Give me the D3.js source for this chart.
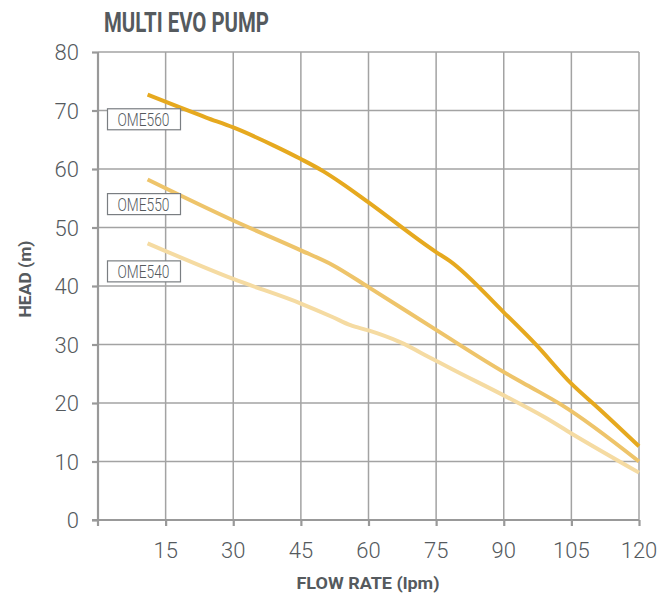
<!DOCTYPE html>
<html>
<head>
<meta charset="utf-8">
<script src="https://cdn.jsdelivr.net/npm/d3@7"></script>
<style>
  html, body { margin: 0; padding: 0; background: #fff; }
  svg { display: block; }
</style>
</head>
<body>
<svg id="chart" width="665" height="601"></svg>
<script>
const title = "MULTI EVO PUMP";
const xTitle = "FLOW RATE (lpm)";
const yTitle = "HEAD (m)";
const xTicks = [15, 30, 45, 60, 75, 90, 105, 120];
const yTicks = [0, 10, 20, 30, 40, 50, 60, 70, 80];
const seriesNames = ["OME560", "OME550", "OME540"];
const seriesColors = ["#E6A91F", "#EEC46A", "#F5DBA2"];
const labelHeads = [68.5, 54, 42.5];

const flow560 = [11, 24, 30, 39, 45, 50, 54, 60, 75, 78, 90, 97, 105, 111, 120];
const head560 = [72.7, 68.8, 67.1, 64.0, 61.7, 59.6, 57.6, 54.3, 45.8, 44.3, 35.5, 30.1, 23.3, 19.1, 12.6];
const flow550 = [11, 30, 45, 52, 60, 75, 90, 96, 103, 120];
const head550 = [58.2, 51.2, 46.1, 43.6, 39.8, 32.5, 25.3, 22.7, 19.6, 10.0];
const flow540 = [11, 30, 45, 52, 56, 60, 67, 74, 79, 90, 99, 105, 120];
const head540 = [47.3, 41.2, 37.0, 34.7, 33.3, 32.4, 30.4, 27.6, 25.6, 21.3, 17.6, 14.8, 8.1];

const flows = [flow560, flow550, flow540];
const heads = [head560, head550, head540];

const svg = d3.select("#chart");
const x = d3.scaleLinear().domain([0, 120]).range([98, 639]);
const y = d3.scaleLinear().domain([0, 80]).range([520, 52]);

const gridColor = "#a3a3a3";
const textColor = "#555a5e";

// grid
const grid = svg.append("g");
grid.selectAll("line.v").data(xTicks).enter().append("line")
  .attr("x1", d => x(d)).attr("x2", d => x(d))
  .attr("y1", y(80)).attr("y2", y(0))
  .attr("stroke", gridColor).attr("stroke-width", 1.5);
grid.selectAll("line.h").data(yTicks.filter(d => d > 0)).enter().append("line")
  .attr("x1", x(0)).attr("x2", x(120))
  .attr("y1", d => y(d)).attr("y2", d => y(d))
  .attr("stroke", gridColor).attr("stroke-width", 1.5);

// axes
const xAxis = d3.axisBottom(x).tickValues(xTicks).tickSize(6).tickFormat("");
const gx = svg.append("g").attr("transform", `translate(0,${y(0)})`).call(xAxis);
gx.select(".domain").attr("d", `M${x(0) - 6},0H${x(120)}`);
gx.selectAll("path,line").attr("stroke", "#999").attr("stroke-width", 2.2);

const yAxis = d3.axisLeft(y).tickValues(yTicks).tickSize(6).tickFormat("");
const gy = svg.append("g").attr("transform", `translate(${x(0)},0)`).call(yAxis);
gy.select(".domain").attr("d", `M0,${y(80)}V${y(0) + 6}`);
gy.selectAll("path,line").attr("stroke", "#999").attr("stroke-width", 2.2);

// tick labels
svg.append("g").selectAll("text").data(yTicks).enter().append("text")
  .attr("x", 79).attr("y", d => y(d) + 8)
  .attr("text-anchor", "end")
  .attr("font-family", "Roboto").attr("font-weight", 300).attr("font-size", 22)
  .attr("fill", textColor)
  .text(d => d);
svg.append("g").selectAll("text").data(xTicks).enter().append("text")
  .attr("x", d => x(d)).attr("y", 558)
  .attr("text-anchor", "middle")
  .attr("font-family", "Roboto").attr("font-weight", 300).attr("font-size", 22)
  .attr("fill", textColor)
  .text(d => d);

// lines
const line = d3.line().x(d => x(d[0])).y(d => y(d[1])).curve(d3.curveMonotoneX);
seriesNames.forEach((name, i) => {
  const pts = flows[i].map((f, j) => [f, heads[i][j]]);
  svg.append("path").datum(pts)
    .attr("d", line)
    .attr("fill", "none")
    .attr("stroke", seriesColors[i])
    .attr("stroke-width", 4)
    .attr("stroke-linecap", "butt")
    .attr("stroke-linejoin", "round");
});

// series label boxes
seriesNames.forEach((name, i) => {
  const cy = y(labelHeads[i]);
  const g = svg.append("g");
  g.append("rect")
    .attr("x", 107.5).attr("y", cy - 10.5)
    .attr("width", 73).attr("height", 21)
    .attr("fill", "#fff").attr("stroke", "#7a7e82").attr("stroke-width", 1.2);
  g.append("text")
    .attr("x", 143.5).attr("y", cy + 6.5)
    .attr("text-anchor", "middle")
    .attr("font-family", "Roboto").attr("font-weight", 300).attr("font-size", 19)
    .attr("textLength", 52).attr("lengthAdjust", "spacingAndGlyphs")
    .attr("fill", textColor)
    .text(name);
});

// titles
svg.append("text")
  .attr("x", 104).attr("y", 32)
  .attr("font-family", "Roboto").attr("font-weight", 700).attr("font-size", 27)
  .attr("textLength", 165).attr("lengthAdjust", "spacingAndGlyphs")
  .attr("fill", textColor)
  .text(title);

svg.append("text")
  .attr("x", 368).attr("y", 589)
  .attr("text-anchor", "middle")
  .attr("font-family", "Roboto").attr("font-weight", 700).attr("font-size", 16)
  .attr("textLength", 143).attr("lengthAdjust", "spacingAndGlyphs")
  .attr("fill", textColor)
  .text(xTitle);

svg.append("text")
  .attr("transform", `translate(31,279) rotate(-90)`)
  .attr("text-anchor", "middle")
  .attr("font-family", "Roboto").attr("font-weight", 700).attr("font-size", 16)
  .attr("textLength", 77).attr("lengthAdjust", "spacingAndGlyphs")
  .attr("fill", textColor)
  .text(yTitle);
</script>
</body>
</html>
